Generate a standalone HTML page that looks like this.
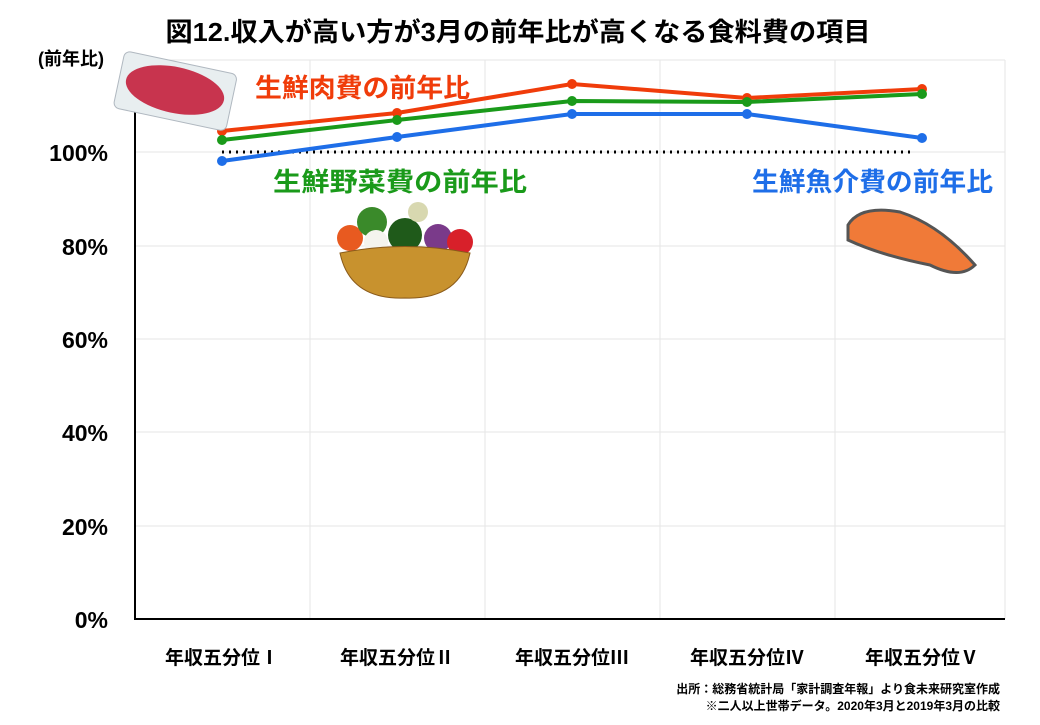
<!DOCTYPE html>
<html><head><meta charset="utf-8"><style>
body{margin:0;background:#fff;width:1040px;height:720px;overflow:hidden;font-family:"Liberation Sans","Noto Sans CJK JP",sans-serif}
svg text{font-family:"Liberation Sans","Noto Sans CJK JP",sans-serif;font-weight:bold}
</style></head><body>
<svg width="1040" height="720" viewBox="0 0 1040 720">
<rect width="1040" height="720" fill="#fff"/>
<text x="518" y="41" text-anchor="middle" font-size="26" fill="#000" textLength="705" lengthAdjust="spacingAndGlyphs">図12.収入が高い方が3月の前年比が高くなる食料費の項目</text>
<text x="38" y="65" font-size="18" fill="#000">(前年比)</text>
<g stroke="#e6e6e6" stroke-width="1">
<line x1="135" y1="526" x2="1005" y2="526"/><line x1="135" y1="432" x2="1005" y2="432"/>
<line x1="135" y1="339" x2="1005" y2="339"/><line x1="135" y1="246" x2="1005" y2="246"/>
<line x1="135" y1="152" x2="1005" y2="152"/><line x1="135" y1="60" x2="1005" y2="60"/>
<line x1="310" y1="60" x2="310" y2="619"/><line x1="485" y1="60" x2="485" y2="619"/>
<line x1="660" y1="60" x2="660" y2="619"/><line x1="835" y1="60" x2="835" y2="619"/>
<line x1="1005" y1="60" x2="1005" y2="619"/>
</g>
<line x1="135" y1="60" x2="135" y2="620" stroke="#000" stroke-width="2"/>
<line x1="134" y1="619" x2="1005" y2="619" stroke="#000" stroke-width="2"/>
<g font-size="23" fill="#000" text-anchor="end">
<text x="108" y="628">0%</text><text x="108" y="535">20%</text><text x="108" y="441">40%</text>
<text x="108" y="348">60%</text><text x="108" y="255">80%</text><text x="108" y="161">100%</text>
</g>
<g font-size="19" fill="#000" text-anchor="middle">
<text x="222" y="664">年収五分位Ⅰ</text><text x="397" y="664">年収五分位Ⅱ</text><text x="572" y="664">年収五分位Ⅲ</text>
<text x="747" y="664">年収五分位Ⅳ</text><text x="922" y="664">年収五分位Ⅴ</text>
</g>
<line x1="222" y1="152" x2="915" y2="152" stroke="#000" stroke-width="3" stroke-dasharray="2,5"/>
<polyline points="222,131 397,113 572,84 747,98 922,89" fill="none" stroke="#f03c0a" stroke-width="4"/>
<g fill="#f03c0a"><circle cx="222" cy="131" r="5"/><circle cx="397" cy="113" r="5"/><circle cx="572" cy="84" r="5"/><circle cx="747" cy="98" r="5"/><circle cx="922" cy="89" r="5"/></g>
<polyline points="222,140 397,120 572,101 747,102 922,94" fill="none" stroke="#1a9a1a" stroke-width="4"/>
<g fill="#1a9a1a"><circle cx="222" cy="140" r="5"/><circle cx="397" cy="120" r="5"/><circle cx="572" cy="101" r="5"/><circle cx="747" cy="102" r="5"/><circle cx="922" cy="94" r="5"/></g>
<polyline points="222,161 397,137 572,114 747,114 922,138" fill="none" stroke="#1e6ee8" stroke-width="4"/>
<g fill="#1e6ee8"><circle cx="222" cy="161" r="5"/><circle cx="397" cy="137" r="5"/><circle cx="572" cy="114" r="5"/><circle cx="747" cy="114" r="5"/><circle cx="922" cy="138" r="5"/></g>
<text x="255" y="97" font-size="26" fill="#f03c0a" textLength="215" lengthAdjust="spacingAndGlyphs">生鮮肉費の前年比</text>
<text x="273" y="191" font-size="26" fill="#1a9a1a" textLength="254" lengthAdjust="spacingAndGlyphs">生鮮野菜費の前年比</text>
<text x="752" y="191" font-size="26" fill="#1e6ee8" textLength="241" lengthAdjust="spacingAndGlyphs">生鮮魚介費の前年比</text>
<g transform="rotate(12 175 90)"><rect x="118" y="62" width="115" height="58" rx="6" fill="#e8eef0" stroke="#b0b8c0"/><ellipse cx="175" cy="90" rx="50" ry="23" fill="#c8344e"/></g>
<circle cx="350" cy="238" r="13" fill="#e85a20"/><circle cx="372" cy="222" r="15" fill="#3a8a2a"/><circle cx="405" cy="235" r="17" fill="#1f5a1a"/><circle cx="438" cy="238" r="14" fill="#7a3a8a"/><circle cx="460" cy="242" r="13" fill="#d8202a"/><circle cx="376" cy="242" r="12" fill="#f4f4ee"/><circle cx="418" cy="212" r="10" fill="#d8d8b0"/>
<path d="M340 253 Q405 240 470 253 Q460 300 405 298 Q350 300 340 253Z" fill="#c8922e" stroke="#8a5a1a"/>
<path d="M848 225 Q860 205 900 212 Q940 225 975 265 Q960 280 930 265 Q880 255 848 240Z" fill="#f07a38" stroke="#555" stroke-width="3"/>
<text x="1000" y="693" font-size="12" fill="#000" text-anchor="end">出所：総務省統計局「家計調査年報」より食未来研究室作成</text>
<text x="1000" y="710" font-size="12" fill="#000" text-anchor="end">※二人以上世帯データ。2020年3月と2019年3月の比較</text>
</svg>
</body></html>
